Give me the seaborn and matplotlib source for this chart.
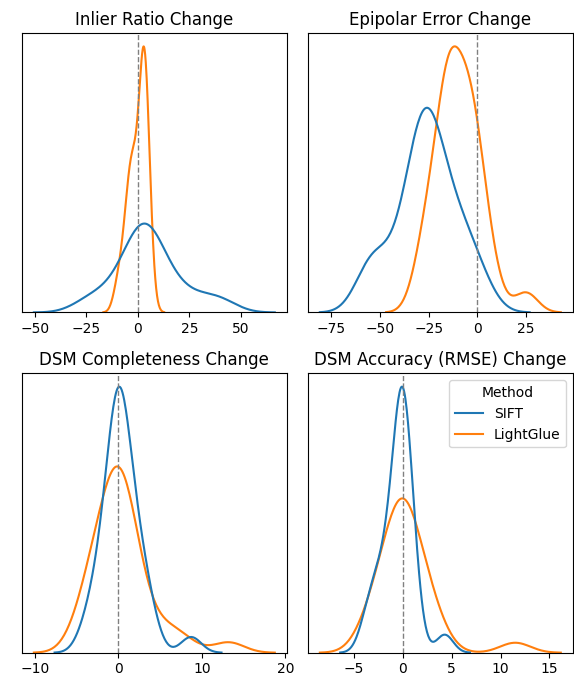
import numpy as np
import pandas as pd
import matplotlib
matplotlib.use("Agg")
import matplotlib.pyplot as plt
import seaborn as sns

# ---------------------- 数据 ----------------------
methods = ["SIFT", "LightGlue"]
titles = ["Inlier Ratio Change", "Epipolar Error Change",
          "DSM Completeness Change", "DSM Accuracy (RMSE) Change"]

# Inlier ratio change (%)
inlier_sift = [-26, -21, -16, -11, -7, -5, -3, -2, -1, 0, 1, 2, 3, 3, 4, 5,
               6, 7, 8, 9, 11, 13, 16, 20, 25, 31, 38, 42]
inlier_lg = [-10, -7.5, -6, -5, -4, -3.5, -3, -2.5, -2, -1, 0, 1, 1.5, 2,
             2.5, 2.8, 3, 3, 3.2, 3.4, 3.6, 4, 4.5, 5, 6]

# Epipolar error change (%)
epi_sift = [-57, -55, -52, -47, -40, -36, -34, -32, -31, -30, -29, -28, -27,
            -26, -25, -24, -23, -22, -20, -18, -16, -14, -11, -8, -5, -2, 3]
epi_lg = [-29, -27, -25, -22, -20, -18, -17, -16, -15, -15, -14, -14, -13,
          -12, -10, -8, -7, -6, -5, -4, -3, -2, -1, 0, 2, 4, 8, 25]

# DSM completeness change (%)
comp_sift = [-4, -3, -2.5, -2, -1.6, -1.3, -1, -0.8, -0.6, -0.4, -0.3, -0.2,
             0, 0, 0.1, 0.2, 0.3, 0.4, 0.6, 0.8, 1, 1.2, 1.5, 1.8, 2.1, 2.5,
             2.9, 3.4, 4, 8.7]
comp_lg = [-4.6, -4.0, -3.4, -3.0, -2.6, -2.3, -1.9, -1.6, -1.3, -1, -0.8,
           -0.5, -0.3, -0.1, 0.1, 0.2, 0.3, 0.4, 0.5, 0.7, 1, 1.2, 1.5, 1.8,
           2.2, 2.8, 4.6, 6, 7.8, 13.2]

# DSM accuracy (RMSE) change (%)
acc_sift = [-3.8, -3.2, -2.7, -2.3, -1.9, -1.5, -1.2, -0.9, -0.7, -0.5, -0.4,
            -0.3, -0.2, -0.1, 0, 0, 0.1, 0.2, 0.3, 0.4, 0.6, 0.8, 1.0, 1.3,
            4.3]
acc_lg = [-3.8, -3.1, -2.6, -2.1, -1.7, -1.4, -1.1, -0.8, -0.6, -0.4, -0.2, 0,
          0, 0.1, 0.3, 0.5, 0.7, 1.0, 1.3, 1.6, 2.0, 2.5, 3.0, 3.7, 11.5]

panels = [(inlier_sift, inlier_lg), (epi_sift, epi_lg),
          (comp_sift, comp_lg), (acc_sift, acc_lg)]


def to_long(sift, lg):
    """拼成长表, 供seaborn按Method着色"""
    return pd.DataFrame({
        "value": list(sift) + list(lg),
        "Method": ["SIFT"] * len(sift) + ["LightGlue"] * len(lg),
    })


# ---------------------- 绘图 ----------------------
fig, axes = plt.subplots(2, 2, figsize=(5.74, 6.75), dpi=100)
fig.subplots_adjust(left=0.038, right=0.998, top=0.951, bottom=0.033,
                    wspace=0.079, hspace=0.218)

for i, (ax, title, (s, l)) in enumerate(zip(axes.flat, titles, panels)):
    df = to_long(s, l)
    last = i == 3
    sns.kdeplot(data=df, x="value", hue="Method", hue_order=methods,
                ax=ax, legend=last)
    ax.axvline(0, color="gray", linestyle="--", linewidth=1)
    ax.set_title(title)
    ax.set_xlabel("")
    ax.set_ylabel("")
    ax.set_yticks([])
    if last:
        sns.move_legend(ax, "upper right")

fig.savefig("out.png", dpi=100)
